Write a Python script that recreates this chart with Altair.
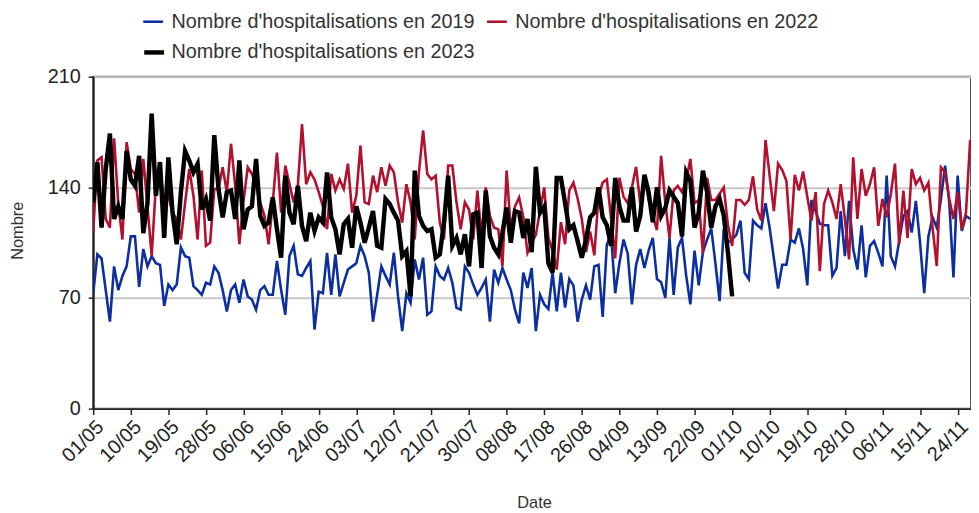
import altair as alt
import pandas as pd

debut = "2023-05-01"

serie_2019 = [
    73, 97.6, 95, 75, 55, 90, 75, 84, 90, 109, 109, 77, 101, 90, 96.5, 92, 91, 65, 78.5, 75,
    78.5, 102, 96.5, 95.5, 77.5, 75, 72, 79.6, 78.5, 90, 86, 75, 61.5, 75, 78.5,
    67, 81.7, 71, 69, 62.6, 75, 77.5, 72, 72, 93.4, 75, 59.4, 96.5, 103, 85, 84, 89, 93.4, 50,
    74, 73, 98.6, 72, 97.6, 71, 79.6, 88, 90, 92, 103, 96.5, 86, 55, 72, 90,
    84, 78.5, 98.6, 71, 49, 73, 67, 94.4, 81.7, 95.5, 59.4, 61.5, 90, 84, 81.7, 89, 79.6, 63.7,
    62.6, 90, 86, 78.5, 72, 76.4, 81.7, 55, 88, 79.6, 89, 81.7, 75, 62.6, 54, 86, 76.4,
    89, 49, 72, 66, 63, 86, 61.5, 86, 64, 82, 78, 55, 69, 78, 69, 90, 91, 58, 104, 110,
    73, 92, 107, 98, 66, 91, 101, 89, 100, 108, 82, 80, 70, 108, 72,
    102, 108, 84, 66, 100, 78, 99, 107, 114, 92, 68, 114, 105, 107, 110, 119, 86, 82, 119, 116,
    114, 130, 114, 95, 76, 91, 91, 107, 105, 114, 101, 78, 132, 125, 117,
    116, 116, 84, 89, 125, 96.5, 131.5, 101, 88, 116, 83, 103, 106, 98.6, 90, 147.4, 96.5, 90,
    106, 122, 125, 111.4, 131.5, 105, 73, 109, 121, 114.5, 132.6, 153.8, 130.5, 83, 147.4,
    112.4, 122, 120,
]

serie_2022 = [
    112, 157, 159, 120, 114.5, 171, 130, 107, 168.6, 151.6, 148.5, 124, 158, 128, 96.5, 141,
    151.6, 130, 134.7, 124, 120, 107, 130, 151.6, 134.7, 107, 150.6, 103, 105, 139, 139, 152.7,
    137, 167.6, 141,
    104, 131.5, 152.7, 148.5, 141, 130.5, 122, 104, 130.5, 162, 124, 153.8, 142, 130.5, 141, 180,
    142, 149.5, 145, 137, 128, 113.5, 148.5, 138, 145, 139, 155, 124, 134.7, 166.5, 130.5, 129.5,
    147.4, 137, 152.7,
    141, 153.8, 149.5, 130.5, 117.7, 142, 130.5, 107, 149.5, 176, 148.5, 145, 147.4, 117.7, 107,
    153.8, 153.8, 130.5, 113.5, 130.5, 126, 107, 138, 109, 140, 122, 114.5, 113.5, 90.2, 150.6,
    113.5, 128, 133.6, 121, 98.6,
    105, 110, 125, 140, 108, 100, 88, 118, 104, 138, 143, 133, 120, 99, 112, 97, 134, 143, 145,
    121, 95, 146, 134, 130, 140, 153, 130, 147, 132, 122, 113, 160, 130, 108, 138,
    141, 137, 144, 158, 130, 132, 98, 146, 132, 132, 136, 140, 116, 103, 132, 132, 129, 132, 147,
    126, 119, 170, 147, 125, 155, 151, 144, 107, 148, 138, 150, 134, 119, 137, 87,
    129.5, 138, 130.5, 120, 142, 120, 94.4, 159, 120, 151.6, 134.7, 142, 152.7, 115.6, 132.6, 121,
    135.8, 155, 104, 138, 108, 151.6, 142, 146, 138, 143, 114.5, 90.2, 152.7, 149.5, 132.6, 120,
    137, 113.5, 124, 170,
]

serie_2023 = [
    130.5, 156, 114.5, 151.6, 174, 120, 128, 120, 163, 145, 141, 160, 111, 130, 186.6, 134.7, 156,
    108, 159, 124, 104, 137, 163, 157, 149.5, 154.8, 126, 132.6, 119, 173, 139, 121, 137, 138, 120,
    157, 113.5, 126, 128, 158, 122, 115.6, 117.7, 133.6, 113.5, 95.5, 147.4, 124, 116.7, 141, 115.6,
    106, 124, 112.4, 121, 117.7, 149.5, 121, 113.5, 97.6, 116.7, 120, 101.8, 128, 117.7, 105, 114.5,
    125, 103, 101.8,
    132.6, 129.5, 124, 119, 96.5, 99.7, 71, 150.6, 122, 115.6, 112.4, 113.5, 95.5, 97.6, 117.7,
    147.4, 103, 108, 97.6, 110.3, 90, 123, 124, 89, 138, 109, 101.8, 97.6, 111.4, 127.3, 105, 125,
    124, 108, 120,
    99, 153, 124, 128, 92, 86, 146, 146, 130, 113.5, 116, 106, 95.5, 107, 121, 124, 140, 121, 116,
    103, 146, 128, 119, 119, 140, 112, 122, 148, 137, 118, 140, 122, 127, 138, 134,
    130, 109, 149.5, 144, 114.5, 124, 150.6, 137, 114.5, 128, 132.6, 122, 98.6, 71,
]

noms = [
    "Nombre d'hospitalisations en 2019",
    "Nombre d'hospitalisations en 2022",
    "Nombre d'hospitalisations en 2023",
]
series = [serie_2019, serie_2022, serie_2023]
couleurs = ["#0b2f9f", "#b3102e", "#000000"]
epaisseurs = [2.6, 2.6, 4.5]
legende_pos = [(49, -67), (396, -67), (49, -37)]
legende_decalage = [7, 7, 5]
y_ticks = [0, 70, 140, 210]
x_ticks = [alt.DateTime(year=d.year, month=d.month, date=d.day)
           for d in pd.date_range(debut, "2023-11-24", freq="9D")]

FONT = "Liberation Sans"

x_enc = alt.X(
    "date:T", title="Date",
    scale=alt.Scale(domain=[alt.DateTime(year=2023, month=5, date=1),
                            alt.DateTime(year=2023, month=11, date=27, hours=4, minutes=48)]),
    axis=alt.Axis(values=x_ticks, format="%d/%m", labelAngle=-45, labelAlign="right",
                  labelBaseline="top", labelOverlap=False, grid=False, tickSize=6,
                  labelPadding=2, titleX=445, titleY=100, titleBaseline="alphabetic",
                  titleAlign="center"),
)
y_enc = alt.Y(
    "valeur:Q", title="Nombre",
    scale=alt.Scale(domain=[0, 210], nice=False, zero=True),
    axis=alt.Axis(values=y_ticks, grid=True, gridColor="#c8c8c8", gridWidth=2,
                  tickSize=5, labelPadding=8, titleX=-76, titleY=155, titleAngle=-90,
                  titleAlign="center", titleBaseline="middle"),
)

couches = []
for nom, vals, col, w, (lx, ly), off in zip(noms, series, couleurs, epaisseurs,
                                            legende_pos, legende_decalage):
    df = pd.DataFrame({
        "date": pd.date_range(debut, periods=len(vals)),
        "valeur": vals,
        "serie": nom,
    })
    couches.append(
        alt.Chart(df).mark_line(clip=True, strokeWidth=w).encode(
            x=x_enc,
            y=y_enc,
            color=alt.Color(
                "serie:N",
                scale=alt.Scale(domain=[nom], range=[col]),
                legend=alt.Legend(
                    title=None, orient="none", legendX=lx, legendY=ly,
                    symbolType="stroke", symbolSize=400, symbolStrokeWidth=w,
                    labelFontSize=20, labelFont=FONT, labelColor="#333333",
                    labelLimit=0, labelOffset=off,
                ),
            ),
        )
    )

chart = alt.layer(*couches).resolve_scale(color="independent").properties(
    width=886, height=335,
    padding={"left": 86, "top": 67, "right": 0, "bottom": 105},
    autosize=alt.AutoSizeParams(type="none"),
).configure_view(
    stroke="#555555", strokeWidth=2
).configure_axis(
    labelFont=FONT, labelFontSize=20, labelColor="#222222",
    titleFont=FONT, titleFontSize=16.5, titleColor="#333333", titleFontWeight="normal",
    domainColor="#222222", domainWidth=2, tickColor="#222222", tickWidth=1.5,
)

chart.save("out.html", embed_options={"renderer": "svg", "actions": False})
